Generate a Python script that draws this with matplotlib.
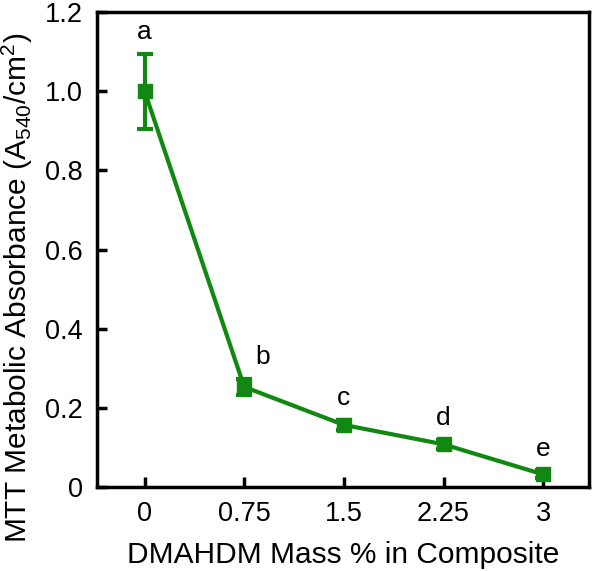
import matplotlib
matplotlib.use("Agg")
import matplotlib.pyplot as plt

plt.rcParams['font.family'] = ['Liberation Sans', 'DejaVu Sans']
plt.rcParams['mathtext.fontset'] = 'custom'
plt.rcParams['mathtext.rm'] = 'Liberation Sans'
plt.rcParams['mathtext.it'] = 'Liberation Sans'

mass = ['0', '0.75', '1.5', '2.25', '3']
absorb = [1.0, 0.253, 0.157, 0.108, 0.032]
err = [0.095, 0.02, 0.012, 0.012, 0.01]
letters = ['a', 'b', 'c', 'd', 'e']

green = '#118811'

fig = plt.figure(figsize=(6.01, 5.71), dpi=100)
ax = fig.add_axes([0.161, 0.147, 0.819, 0.832])

xs = list(range(len(mass)))
ax.errorbar(xs, absorb, yerr=err, color=green, lw=3, marker='s', ms=9.5,
            capsize=6, capthick=3, elinewidth=3)

for x, y, e, l in zip(xs, absorb, err, letters):
    dx = 0.18 if l == 'b' else 0
    ax.text(x + dx, y + e + 0.025, l, ha='center', va='bottom', fontsize=19)

ax.set_xlim(-0.48, 4.46)
ax.set_ylim(0, 1.2)
ax.set_xticks(xs)
ax.set_xticklabels(mass)
ax.set_yticks([0, 0.2, 0.4, 0.6, 0.8, 1.0, 1.2])
ax.set_yticklabels(['0', '0.2', '0.4', '0.6', '0.8', '1.0', '1.2'])
ax.tick_params(direction='in', length=7, width=2.5, labelsize=19.5, pad=10)

for s in ax.spines.values():
    s.set_linewidth(2.5)

ax.set_xlabel('DMAHDM Mass % in Composite', fontsize=21.5, labelpad=10)
ax.set_ylabel('MTT Metabolic Absorbance (A$_{540}$/cm$^2$)', fontsize=21.5)
ax.yaxis.set_label_coords(-0.125, 0.42)

fig.savefig('out.png', dpi=100)
